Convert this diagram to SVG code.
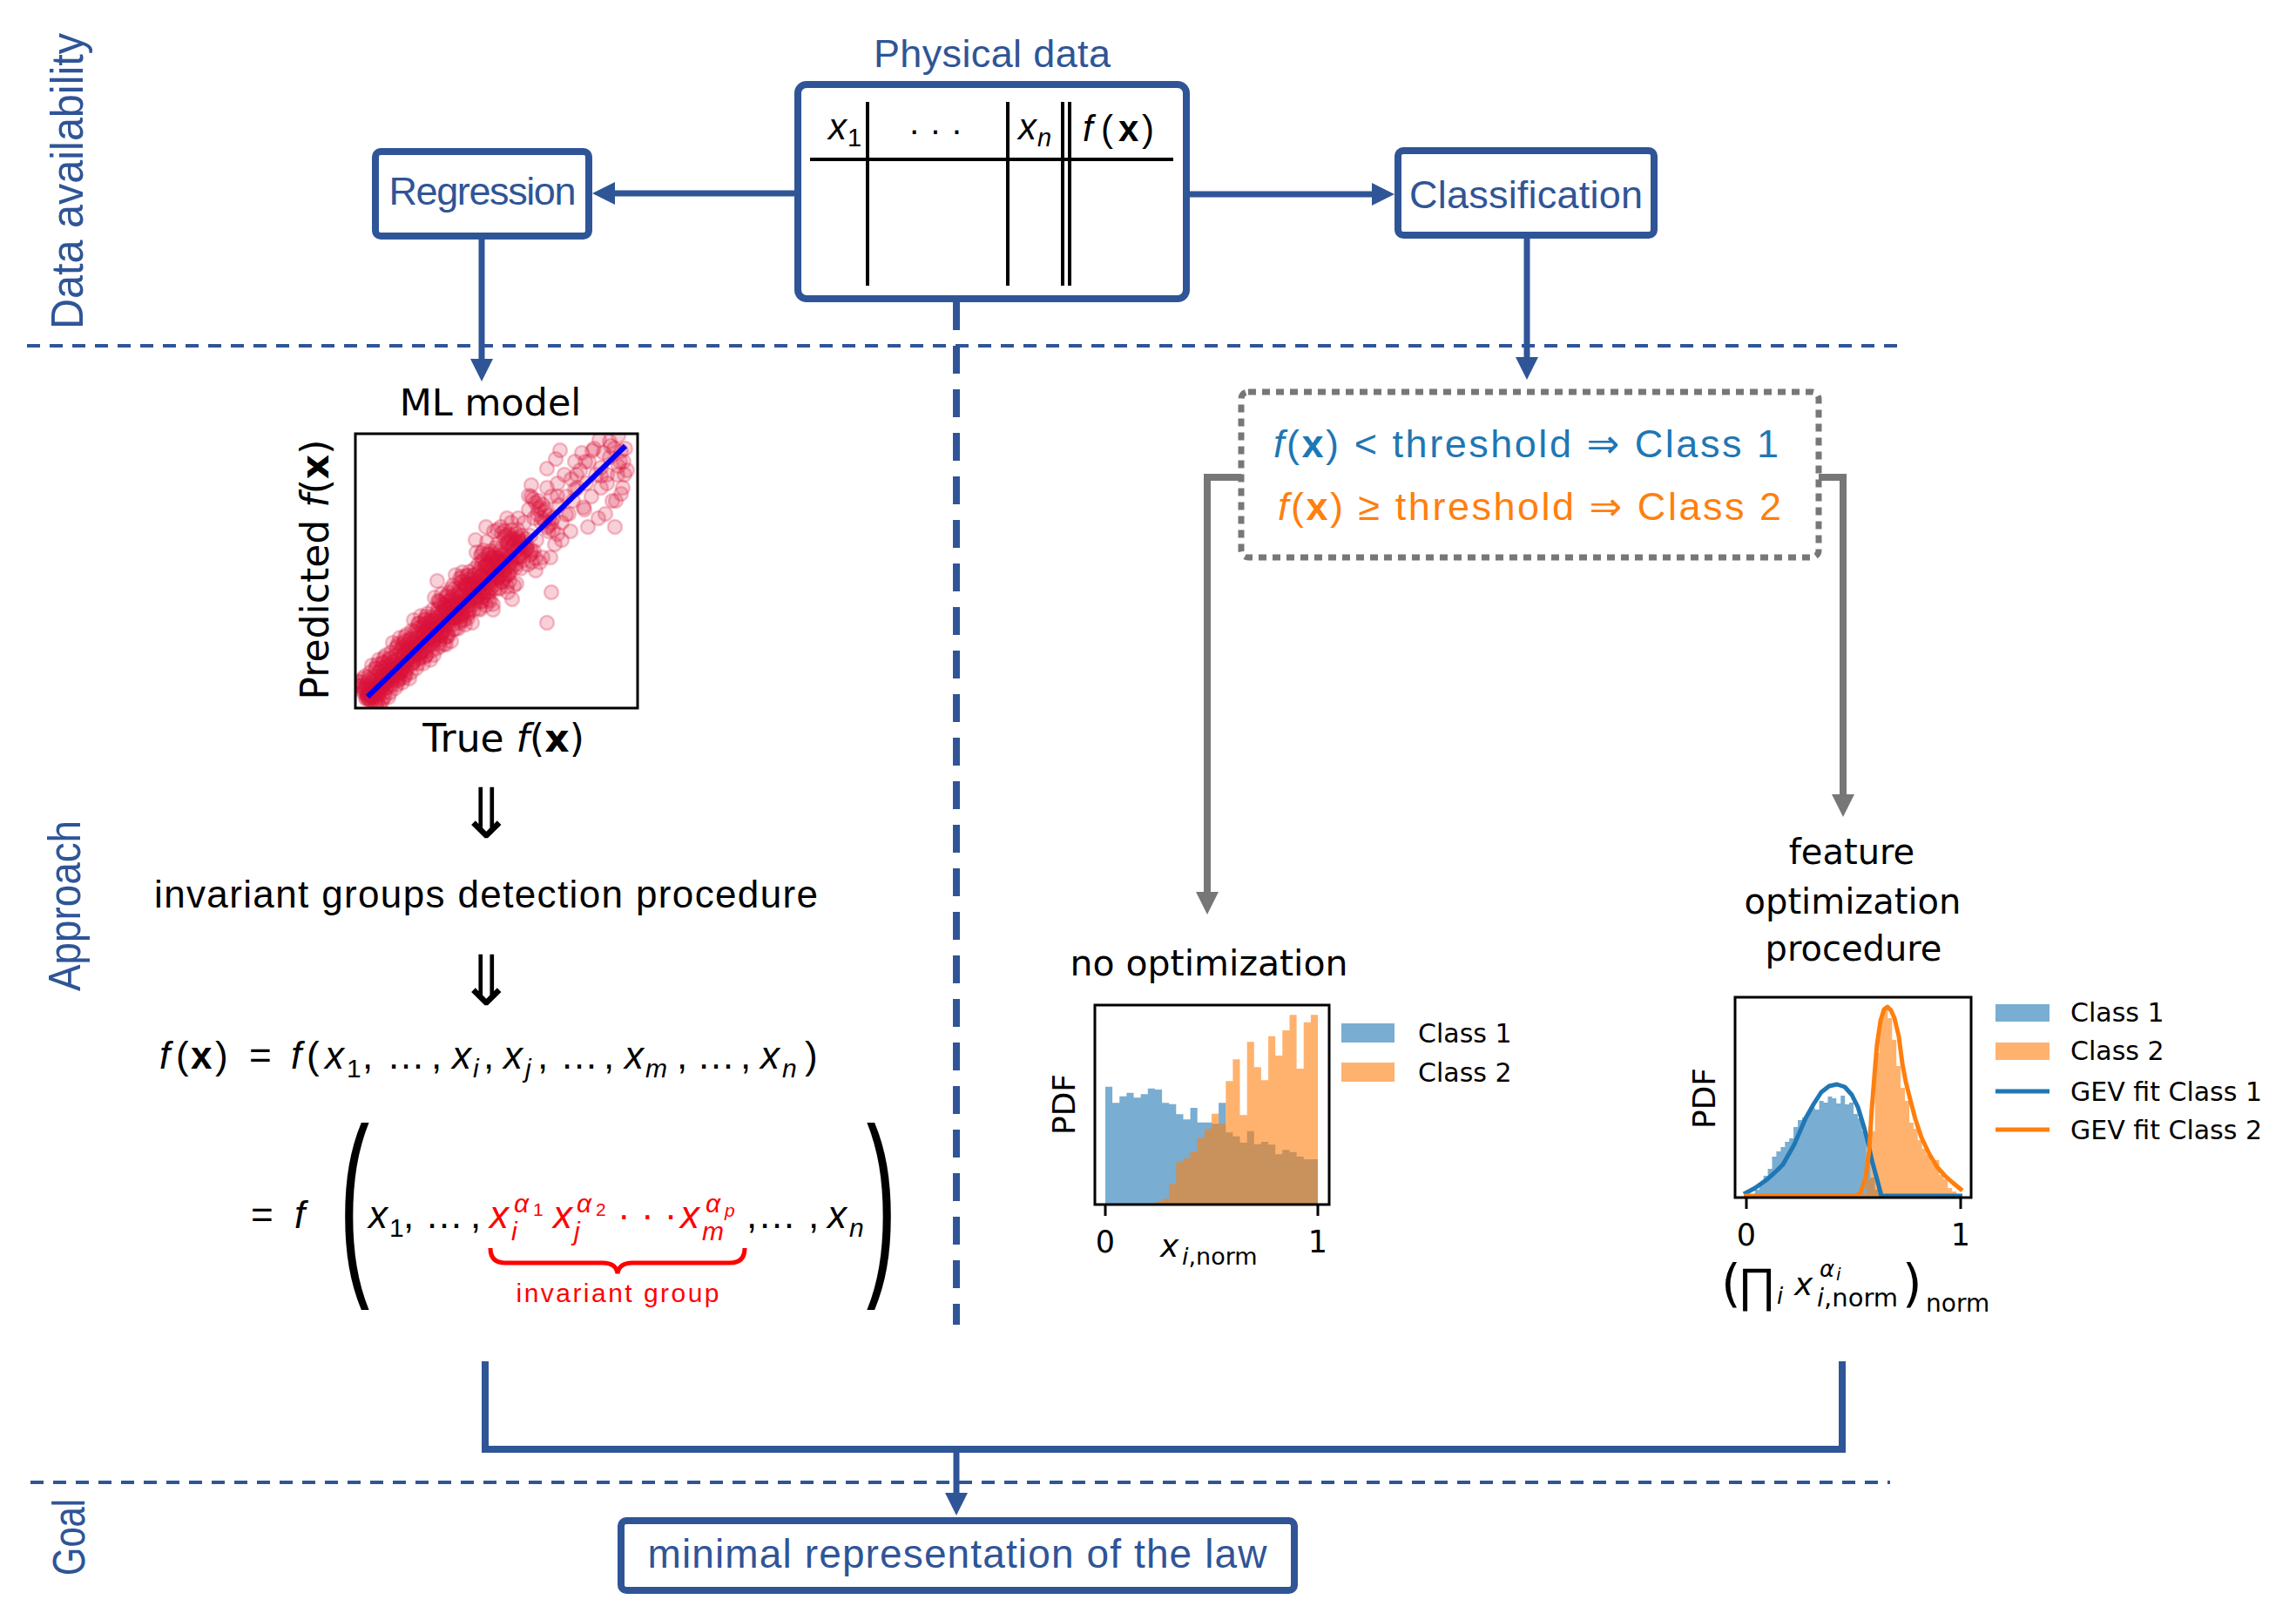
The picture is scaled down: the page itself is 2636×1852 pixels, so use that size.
<svg xmlns="http://www.w3.org/2000/svg" width="2636" height="1852" viewBox="0 0 2636 1852">
<defs>
<style>
.sans{font-family:"Liberation Sans",Arial,"DejaVu Sans",sans-serif}
.dv{font-family:"DejaVu Sans","Liberation Sans",sans-serif}
.blue{fill:#2f5597}
.box{fill:#fff;stroke:#2f5597;stroke-width:8}
.conn{fill:none;stroke:#2f5597;stroke-width:7}
.gconn{fill:none;stroke:#777;stroke-width:8}
.sep{fill:none;stroke:#2f5597;stroke-width:4;stroke-dasharray:15 11}
.tbl{stroke:#000;stroke-width:4}
.it{font-style:italic}
.bf{font-weight:bold}
.pt{fill:#dc143c;fill-opacity:.2;stroke:#dc143c;stroke-opacity:.25;stroke-width:2.5}
.frame{fill:none;stroke:#000;stroke-width:3}
.c1{fill:#1f77b4;fill-opacity:.6}
.c2{fill:#ff7f0e;fill-opacity:.6}
</style>
<marker id="ab" markerUnits="userSpaceOnUse" markerWidth="26" markerHeight="26" viewBox="0 0 26 26" refX="4" refY="13" orient="auto"><path d="M0,0L26,13L0,26z" fill="#2f5597"/></marker>
<marker id="ag" markerUnits="userSpaceOnUse" markerWidth="26" markerHeight="26" viewBox="0 0 26 26" refX="4" refY="13" orient="auto"><path d="M0,0L26,13L0,26z" fill="#777"/></marker>
<clipPath id="clipL"><rect x="1257" y="1154" width="269" height="229"/></clipPath>
<clipPath id="clipR"><rect x="1992" y="1145" width="271" height="230"/></clipPath>
<clipPath id="clipS"><rect x="408" y="498" width="324" height="315"/></clipPath>
<g id="core" class="pt">
<circle cx="424" cy="795.6" r="8"/><circle cx="428" cy="796.1" r="8"/><circle cx="432" cy="789.3" r="8"/><circle cx="436" cy="790.4" r="8"/><circle cx="440" cy="776.9" r="8"/><circle cx="444" cy="779.9" r="8"/><circle cx="448" cy="770.4" r="8"/><circle cx="452" cy="773.8" r="8"/><circle cx="456" cy="765.3" r="8"/><circle cx="460" cy="769" r="8"/><circle cx="464" cy="751" r="8"/><circle cx="468" cy="757.1" r="8"/><circle cx="472" cy="745.3" r="8"/><circle cx="476" cy="751.7" r="8"/><circle cx="480" cy="741.4" r="8"/><circle cx="484" cy="747.7" r="8"/><circle cx="488" cy="725.1" r="8"/><circle cx="492" cy="734.4" r="8"/><circle cx="496" cy="720.3" r="8"/><circle cx="500" cy="729.5" r="8"/><circle cx="504" cy="717.4" r="8"/><circle cx="508" cy="726.3" r="8"/><circle cx="512" cy="699.1" r="8"/><circle cx="516" cy="711.6" r="8"/><circle cx="520" cy="695.1" r="8"/><circle cx="524" cy="707.3" r="8"/><circle cx="528" cy="693.6" r="8"/><circle cx="532" cy="705" r="8"/><circle cx="536" cy="673.2" r="8"/><circle cx="540" cy="688.8" r="8"/><circle cx="544" cy="670.1" r="8"/><circle cx="548" cy="685" r="8"/><circle cx="552" cy="669.6" r="8"/><circle cx="556" cy="683.7" r="8"/><circle cx="560" cy="647.2" r="8"/><circle cx="564" cy="666" r="8"/><circle cx="568" cy="645" r="8"/><circle cx="572" cy="662.9" r="8"/><circle cx="576" cy="645.7" r="8"/><circle cx="580" cy="662.4" r="8"/><circle cx="584" cy="621.2" r="8"/><circle cx="588" cy="642.8" r="8"/><circle cx="592" cy="622.5" r="8"/><circle cx="596" cy="638.3" r="8"/><circle cx="600" cy="621.7" r="8"/><circle cx="610" cy="635.7" r="8"/><circle cx="620" cy="582.3" r="8"/><circle cx="630" cy="603.4" r="8"/><circle cx="422" cy="800" r="8"/><circle cx="426" cy="801" r="8"/><circle cx="430" cy="792" r="8"/><circle cx="438" cy="785" r="8"/><circle cx="446" cy="776" r="8"/><circle cx="454" cy="768" r="8"/><circle cx="462" cy="762" r="8"/><circle cx="470" cy="752" r="8"/><circle cx="478" cy="744" r="8"/><circle cx="486" cy="737" r="8"/><circle cx="494" cy="729" r="8"/><circle cx="502" cy="721" r="8"/><circle cx="510" cy="713" r="8"/><circle cx="518" cy="705" r="8"/><circle cx="526" cy="697" r="8"/><circle cx="534" cy="690" r="8"/><circle cx="542" cy="681" r="8"/><circle cx="550" cy="674" r="8"/><circle cx="558" cy="666" r="8"/><circle cx="566" cy="658" r="8"/><circle cx="574" cy="650" r="8"/><circle cx="582" cy="642" r="8"/>
</g>
</defs>
<rect x="0" y="0" width="2636" height="1852" fill="#fff"/>

<g id="section-labels" class="sans blue" font-size="52">
<text transform="translate(95,208) rotate(-90)" text-anchor="middle" textLength="340" lengthAdjust="spacingAndGlyphs">Data availability</text>
<text transform="translate(92,1040) rotate(-90)" text-anchor="middle" textLength="196" lengthAdjust="spacingAndGlyphs">Approach</text>
<text transform="translate(97,1765) rotate(-90)" text-anchor="middle" textLength="88" lengthAdjust="spacingAndGlyphs">Goal</text>
</g>

<g id="separators">
<line class="sep" x1="31" y1="397" x2="2180" y2="397"/>
<line class="sep" x1="35" y1="1702" x2="2170" y2="1702"/>
<line x1="1098" y1="347" x2="1098" y2="1521" fill="none" stroke="#2f5597" stroke-width="8" stroke-dasharray="32 18"/>
</g>

<g id="connectors">
<line class="conn" x1="912" y1="222" x2="702" y2="222" marker-end="url(#ab)"/>
<line class="conn" x1="1366" y1="223" x2="1579" y2="223" marker-end="url(#ab)"/>
<line class="conn" x1="553" y1="275" x2="553" y2="416" marker-end="url(#ab)"/>
<line class="conn" x1="1753" y1="274" x2="1753" y2="414" marker-end="url(#ab)"/>
<path class="gconn" d="M1425,548H1386V1028" marker-end="url(#ag)"/>
<path class="gconn" d="M2088,548H2116V916" marker-end="url(#ag)"/>
<path d="M557,1563V1664H2115V1563" fill="none" stroke="#2f5597" stroke-width="8"/>
<line class="conn" x1="1098" y1="1664" x2="1098" y2="1718" marker-end="url(#ab)"/>
</g>

<g id="node-physical-data">
<text class="sans blue" x="1139" y="77" font-size="45" text-anchor="middle" textLength="272">Physical data</text>
<rect class="box" x="916" y="97" width="446" height="246" rx="10"/>
<line class="tbl" x1="930" y1="183" x2="1347" y2="183"/>
<line class="tbl" x1="996" y1="117" x2="996" y2="328"/>
<line class="tbl" x1="1157" y1="117" x2="1157" y2="328"/>
<line class="tbl" x1="1220" y1="117" x2="1220" y2="328"/>
<line class="tbl" x1="1228" y1="117" x2="1228" y2="328"/>
<text class="sans" font-size="42" y="160"><tspan x="951" class="it">x</tspan><tspan x="973" y="168" font-size="29">1</tspan></text>
<text class="sans" font-size="40" x="1074" y="163" text-anchor="middle">· · ·</text>
<text class="sans" font-size="42" y="160"><tspan x="1169" class="it">x</tspan><tspan x="1191" y="168" font-size="29" class="it">n</tspan></text>
<text class="sans" font-size="42" y="162"><tspan x="1243" class="it">f</tspan><tspan x="1264">(</tspan><tspan x="1284" class="bf">x</tspan><tspan x="1311">)</tspan></text>
</g>

<g id="node-regression">
<rect class="box" x="431" y="174" width="245" height="97" rx="6"/>
<text class="sans blue" x="554" y="235" font-size="45" text-anchor="middle" textLength="215">Regression</text>
</g>

<g id="node-classification">
<rect class="box" x="1605" y="173" width="294" height="97" rx="6"/>
<text class="sans blue" x="1752" y="239" font-size="45" text-anchor="middle" textLength="268">Classification</text>
</g>

<g id="node-ml-model">
<text class="dv" x="563" y="477" font-size="43" text-anchor="middle">ML model</text>
<g clip-path="url(#clipS)">
<use href="#core"/>
<use href="#core" transform="translate(5,5)"/>
<use href="#core" transform="translate(-5,-5)"/>
<use href="#core" transform="translate(3,-3)"/>
<use href="#core" transform="translate(-8,-9)"/>
<use href="#core" transform="translate(10,10)"/>
<use href="#core" transform="translate(-13,-13)"/>
<use href="#core" transform="translate(-2,2)"/>
<g class="pt">
<circle cx="422" cy="800" r="8"/><circle cx="423" cy="798" r="8"/><circle cx="425" cy="797" r="8"/><circle cx="421" cy="802" r="8"/><circle cx="427" cy="795" r="8"/><circle cx="424" cy="803" r="8"/><circle cx="429" cy="793" r="8"/><circle cx="426" cy="799" r="8"/><circle cx="430" cy="796" r="8"/><circle cx="432" cy="789" r="8"/><circle cx="434" cy="793" r="8"/><circle cx="436" cy="787" r="8"/><circle cx="438" cy="791" r="8"/><circle cx="439" cy="782" r="8"/><circle cx="441" cy="786" r="8"/><circle cx="443" cy="783" r="8"/><circle cx="445" cy="776" r="8"/><circle cx="446" cy="782" r="8"/><circle cx="448" cy="777" r="8"/><circle cx="451" cy="777" r="8"/><circle cx="453" cy="768" r="8"/><circle cx="454" cy="774" r="8"/><circle cx="456" cy="776" r="8"/><circle cx="459" cy="764" r="8"/><circle cx="461" cy="771" r="8"/><circle cx="464" cy="765" r="8"/><circle cx="467" cy="760" r="8"/><circle cx="469" cy="752" r="8"/><circle cx="428" cy="791" r="8"/><circle cx="433" cy="797" r="8"/><circle cx="437" cy="781" r="8"/><circle cx="444" cy="789" r="8"/><circle cx="450" cy="769" r="8"/><circle cx="457" cy="781" r="8"/><circle cx="462" cy="758" r="8"/><circle cx="466" cy="770" r="8"/>
<circle cx="472" cy="745" r="8"/><circle cx="475" cy="760" r="8"/><circle cx="478" cy="733" r="8"/><circle cx="481" cy="752" r="8"/><circle cx="484" cy="738" r="8"/><circle cx="486" cy="729" r="8"/><circle cx="489" cy="747" r="8"/><circle cx="491" cy="722" r="8"/><circle cx="494" cy="740" r="8"/><circle cx="496" cy="715" r="8"/><circle cx="498" cy="735" r="8"/><circle cx="500" cy="710" r="8"/><circle cx="502" cy="728" r="8"/><circle cx="505" cy="742" r="8"/><circle cx="507" cy="703" r="8"/><circle cx="509" cy="720" r="8"/><circle cx="511" cy="698" r="8"/><circle cx="513" cy="716" r="8"/><circle cx="515" cy="730" r="8"/><circle cx="517" cy="690" r="8"/><circle cx="519" cy="708" r="8"/><circle cx="521" cy="695" r="8"/><circle cx="523" cy="722" r="8"/><circle cx="525" cy="684" r="8"/><circle cx="527" cy="705" r="8"/><circle cx="529" cy="678" r="8"/><circle cx="531" cy="697" r="8"/><circle cx="533" cy="712" r="8"/><circle cx="535" cy="672" r="8"/><circle cx="537" cy="690" r="8"/><circle cx="539" cy="700" r="8"/><circle cx="503" cy="690" r="8"/><circle cx="488" cy="712" r="8"/><circle cx="476" cy="725" r="8"/><circle cx="512" cy="740" r="8"/><circle cx="530" cy="662" r="8"/><circle cx="498" cy="752" r="8"/><circle cx="518" cy="676" r="8"/><circle cx="502" cy="667" r="8"/><circle cx="520" cy="672" r="8"/><circle cx="480" cy="742" r="8"/><circle cx="492" cy="731" r="8"/><circle cx="508" cy="711" r="8"/><circle cx="526" cy="693" r="8"/>
<circle cx="542" cy="675" r="8"/><circle cx="545" cy="660" r="8"/><circle cx="547" cy="690" r="8"/><circle cx="549" cy="648" r="8"/><circle cx="551" cy="700" r="8"/><circle cx="553" cy="635" r="8"/><circle cx="555" cy="665" r="8"/><circle cx="557" cy="680" r="8"/><circle cx="559" cy="622" r="8"/><circle cx="561" cy="650" r="8"/><circle cx="563" cy="690" r="8"/><circle cx="565" cy="640" r="8"/><circle cx="567" cy="610" r="8"/><circle cx="569" cy="660" r="8"/><circle cx="571" cy="625" r="8"/><circle cx="573" cy="675" r="8"/><circle cx="575" cy="605" r="8"/><circle cx="577" cy="645" r="8"/><circle cx="579" cy="660" r="8"/><circle cx="581" cy="615" r="8"/><circle cx="583" cy="680" r="8"/><circle cx="585" cy="632" r="8"/><circle cx="587" cy="600" r="8"/><circle cx="589" cy="650" r="8"/><circle cx="591" cy="620" r="8"/><circle cx="593" cy="670" r="8"/><circle cx="595" cy="595" r="8"/><circle cx="597" cy="640" r="8"/><circle cx="599" cy="615" r="8"/><circle cx="546" cy="620" r="8"/><circle cx="558" cy="605" r="8"/><circle cx="552" cy="662" r="8"/><circle cx="566" cy="700" r="8"/><circle cx="588" cy="688" r="8"/><circle cx="594" cy="608" r="8"/><circle cx="582" cy="595" r="8"/><circle cx="572" cy="645" r="8"/><circle cx="564" cy="675" r="8"/><circle cx="548" cy="672" r="8"/><circle cx="556" cy="650" r="8"/><circle cx="570" cy="640" r="8"/><circle cx="584" cy="650" r="8"/>
<circle cx="602" cy="600" r="8"/><circle cx="604" cy="630" r="8"/><circle cx="607" cy="585" r="8"/><circle cx="609" cy="615" r="8"/><circle cx="611" cy="645" r="8"/><circle cx="613" cy="595" r="8"/><circle cx="616" cy="620" r="8"/><circle cx="618" cy="575" r="8"/><circle cx="621" cy="600" r="8"/><circle cx="623" cy="640" r="8"/><circle cx="626" cy="585" r="8"/><circle cx="628" cy="560" r="8"/><circle cx="630" cy="610" r="8"/><circle cx="633" cy="570" r="8"/><circle cx="635" cy="595" r="8"/><circle cx="637" cy="625" r="8"/><circle cx="640" cy="555" r="8"/><circle cx="642" cy="580" r="8"/><circle cx="645" cy="600" r="8"/><circle cx="648" cy="545" r="8"/><circle cx="650" cy="570" r="8"/><circle cx="653" cy="590" r="8"/><circle cx="656" cy="550" r="8"/><circle cx="658" cy="575" r="8"/><circle cx="660" cy="530" r="8"/><circle cx="615" cy="655" r="8"/><circle cx="632" cy="640" r="8"/><circle cx="645" cy="620" r="8"/><circle cx="655" cy="610" r="8"/><circle cx="610" cy="570" r="8"/><circle cx="633" cy="680" r="8"/><circle cx="628" cy="715" r="8"/><circle cx="643" cy="517" r="8"/><circle cx="638" cy="527" r="8"/><circle cx="628" cy="538" r="8"/><circle cx="610" cy="557" r="8"/><circle cx="640" cy="569.8" r="8"/><circle cx="650" cy="590.7" r="8"/><circle cx="660" cy="561.9" r="8"/><circle cx="670" cy="582.4" r="8"/><circle cx="680" cy="517.5" r="8"/><circle cx="690" cy="546.5" r="8"/><circle cx="700" cy="507" r="8"/><circle cx="710" cy="535.2" r="8"/>
<circle cx="663" cy="560" r="8"/><circle cx="666" cy="540" r="8"/><circle cx="668" cy="520" r="8"/><circle cx="671" cy="585" r="8"/><circle cx="673" cy="555" r="8"/><circle cx="676" cy="530" r="8"/><circle cx="679" cy="570" r="8"/><circle cx="682" cy="515" r="8"/><circle cx="684" cy="545" r="8"/><circle cx="687" cy="595" r="8"/><circle cx="690" cy="560" r="8"/><circle cx="693" cy="520" r="8"/><circle cx="695" cy="590" r="8"/><circle cx="697" cy="545" r="8"/><circle cx="700" cy="525" r="8"/><circle cx="703" cy="575" r="8"/><circle cx="706" cy="605" r="8"/><circle cx="709" cy="545" r="8"/><circle cx="712" cy="530" r="8"/><circle cx="715" cy="560" r="8"/><circle cx="718" cy="515" r="8"/><circle cx="720" cy="540" r="8"/><circle cx="710" cy="500" r="8"/><circle cx="688" cy="505" r="8"/><circle cx="675" cy="605" r="8"/><circle cx="662" cy="545" r="8"/><circle cx="672" cy="530" r="8"/><circle cx="690" cy="537" r="8"/><circle cx="705" cy="515" r="8"/><circle cx="713" cy="518" r="8"/><circle cx="697" cy="555" r="8"/><circle cx="713" cy="567" r="8"/><circle cx="707" cy="575" r="8"/><circle cx="717" cy="545" r="8"/><circle cx="701" cy="512" r="8"/><circle cx="716" cy="530" r="8"/>
</g>
</g>
<line x1="422" y1="800" x2="718" y2="512" stroke="#0000ff" stroke-width="6"/>
<rect class="frame" x="408" y="498" width="324" height="315"/>
<text class="dv" font-size="44" transform="translate(377,654) rotate(-90)" text-anchor="middle">Predicted <tspan class="it">f</tspan>(<tspan class="bf">x</tspan>)</text>
<text class="dv" x="578" y="863" font-size="44" text-anchor="middle">True <tspan class="it">f</tspan>(<tspan class="bf">x</tspan>)</text>
</g>

<g id="node-invariant-procedure">
<text class="dv" x="558" y="962" font-size="80" text-anchor="middle">⇓</text>
<text class="sans" x="558" y="1042" font-size="44" text-anchor="middle" textLength="762">invariant groups detection procedure</text>
<text class="dv" x="558" y="1154" font-size="80" text-anchor="middle">⇓</text>
</g>

<g id="node-formula">
<text class="sans" font-size="44" y="1227"><tspan x="183" class="it">f</tspan><tspan x="202">(</tspan><tspan x="219" class="bf">x</tspan><tspan x="247">)</tspan><tspan x="286">=</tspan><tspan x="334" class="it">f</tspan><tspan x="352">(</tspan><tspan x="373" class="it">x</tspan><tspan x="398" y="1237" font-size="30">1</tspan><tspan x="416" y="1227">,</tspan><tspan x="444">…</tspan><tspan x="495">,</tspan><tspan x="519" class="it">x</tspan><tspan x="543" y="1237" font-size="30" class="it">i</tspan><tspan x="555" y="1227">,</tspan><tspan x="578" class="it">x</tspan><tspan x="603" y="1237" font-size="30" class="it">j</tspan><tspan x="617" y="1227">,</tspan><tspan x="643">…</tspan><tspan x="693">,</tspan><tspan x="717" class="it">x</tspan><tspan x="741" y="1237" font-size="30" class="it">m</tspan><tspan x="777" y="1227">,</tspan><tspan x="800">…</tspan><tspan x="850">,</tspan><tspan x="873" class="it">x</tspan><tspan x="898" y="1237" font-size="30" class="it">n</tspan><tspan x="924" y="1227">)</tspan></text>
<text class="sans" font-size="44" y="1410"><tspan x="288">=</tspan><tspan x="338" class="it">f</tspan></text>
<text class="sans" font-size="230" text-anchor="middle" transform="translate(407,1456) scale(0.45,1)" x="0" y="0">(</text>
<text class="sans" font-size="230" text-anchor="middle" transform="translate(1012,1456) scale(0.45,1)" x="0" y="0">)</text>
<text class="sans" font-size="44" y="1410"><tspan x="423" class="it">x</tspan><tspan x="447" y="1420" font-size="30">1</tspan><tspan x="463" y="1410">,</tspan><tspan x="488">…</tspan><tspan x="540">,</tspan></text>
<text class="sans" font-size="44" y="1410" fill="#ff0000"><tspan x="562" class="it">x</tspan><tspan x="587" y="1424" font-size="30" class="it">i</tspan><tspan x="590" y="1392" font-size="30" class="it">α</tspan><tspan x="612" y="1396" font-size="21">1</tspan><tspan x="635" y="1410" class="it">x</tspan><tspan x="659" y="1424" font-size="30" class="it">j</tspan><tspan x="662" y="1392" font-size="30" class="it">α</tspan><tspan x="684" y="1396" font-size="21">2</tspan><tspan x="709" y="1410">· · ·</tspan><tspan x="781" class="it">x</tspan><tspan x="806" y="1424" font-size="30" class="it">m</tspan><tspan x="810" y="1392" font-size="30" class="it">α</tspan><tspan x="832" y="1397" font-size="21" class="it">p</tspan></text>
<text class="sans" font-size="44" y="1410"><tspan x="857">,</tspan><tspan x="870">…</tspan><tspan x="928">,</tspan><tspan x="950" class="it">x</tspan><tspan x="975" y="1420" font-size="30" class="it">n</tspan></text>
<path d="M563,1433Q563,1450 580,1450L692,1450Q707,1450 709,1462Q711,1450 726,1450L838,1450Q855,1450 855,1433" fill="none" stroke="#ff0000" stroke-width="5"/>
<text class="sans" x="709" y="1495" font-size="30" fill="#ff0000" text-anchor="middle" textLength="233">invariant group</text>
</g>

<g id="node-threshold">
<rect x="1425" y="450" width="663" height="190" rx="8" fill="none" stroke="#777" stroke-width="7" stroke-dasharray="9 7"/>
<text class="sans" font-size="45" x="1462" y="525" fill="#1f77b4" textLength="580"><tspan class="it">f</tspan>(<tspan class="bf">x</tspan>) &lt; threshold <tspan class="dv">⇒</tspan> Class 1</text>
<text class="sans" font-size="45" x="1467" y="597" fill="#ff7f0e" textLength="578"><tspan class="it">f</tspan>(<tspan class="bf">x</tspan>) ≥ threshold <tspan class="dv">⇒</tspan> Class 2</text>
</g>

<g id="node-no-optimization">
<text class="dv" x="1388" y="1120" font-size="41" text-anchor="middle">no optimization</text>
<g clip-path="url(#clipL)">
<path class="c1" d="M1269,1382V1247.7H1277.1V1266.3H1285.3V1258.7H1293.4V1254.7H1301.5V1260.3H1309.7V1256.3H1317.8V1249.7H1325.9V1251H1334.1V1266.3H1342.2V1267.7H1350.3V1279.3H1358.5V1285.3H1366.6V1272H1374.7V1288.7H1382.9V1288.7H1391V1290.3H1399.1V1266.3H1407.3V1300.3H1415.4V1304.7H1423.5V1312H1431.7V1298.7H1439.8V1313.7H1447.9V1311H1456.1V1314.3H1464.2V1325.3H1472.3V1320.3H1480.5V1322.7H1488.6V1328H1496.7V1331H1513V1382Z"/>
<path class="c2" d="M1325.9,1382V1379.7H1334.1V1376.3H1342.2V1359.3H1350.3V1334.3H1358.5V1329.7H1366.6V1322H1374.7V1306.3H1382.9V1296.3H1391V1278.7H1399.1V1290.3H1407.3V1241.3H1415.4V1216.3H1423.5V1280.3H1431.7V1196.3H1439.8V1225.3H1447.9V1240.3H1456.1V1189.7H1464.2V1212H1472.3V1183H1480.5V1165.3H1488.6V1227H1496.7V1173.7H1504.9V1165.3H1513V1382Z"/>
</g>
<rect class="frame" x="1257" y="1154" width="269" height="229"/>
<line x1="1269" y1="1383" x2="1269" y2="1396" stroke="#000" stroke-width="3"/>
<line x1="1513" y1="1383" x2="1513" y2="1396" stroke="#000" stroke-width="3"/>
<text class="dv" font-size="35" y="1438" text-anchor="middle"><tspan x="1269">0</tspan><tspan x="1513">1</tspan></text>
<text class="dv" font-size="36" y="1443"><tspan x="1332" class="it">x</tspan><tspan x="1357" y="1452" font-size="27"><tspan class="it">i</tspan>,norm</tspan></text>
<text class="dv" font-size="36" transform="translate(1234,1268) rotate(-90)" text-anchor="middle">PDF</text>
<rect class="c1" x="1540" y="1175" width="61" height="22"/>
<rect class="c2" x="1540" y="1220" width="61" height="22"/>
<text class="dv" font-size="30" x="1628" y="1197">Class 1</text>
<text class="dv" font-size="30" x="1628" y="1242">Class 2</text>
</g>

<g id="node-feature-optimization">
<text class="dv" font-size="40" text-anchor="middle"><tspan x="2126" y="992">feature</tspan><tspan x="2127" y="1049">optimization</tspan><tspan x="2128" y="1103">procedure</tspan></text>
<g clip-path="url(#clipR)">
<path class="c1" d="M2014.8,1374V1366H2019.8V1359H2024.7V1350H2029.6V1342H2034.5V1328H2039.4V1322H2044.4V1317H2049.3V1311H2054.2V1307H2059.1V1294H2064V1286H2069V1283H2073.9V1277H2078.8V1272H2083.7V1274H2088.6V1264H2093.6V1266H2098.5V1259H2103.4V1261H2108.3V1267H2113.2V1258H2118.2V1268H2123.1V1266H2128V1279H2132.9V1284H2137.8V1299H2142.8V1329H2147.7V1352H2152.6V1366H2157.5V1372H2162.4V1374Z"/>
<path class="c2" d="M2137.8,1374V1371H2142.8V1354H2147.7V1299H2152.6V1209H2157.5V1169H2162.4V1159H2167.4V1169H2172.3V1194H2177.2V1224H2182.1V1249H2187V1264H2192V1289H2196.9V1296H2201.8V1309H2206.7V1319H2211.6V1326H2216.6V1334H2221.5V1332H2226.4V1349H2231.3V1354H2236.2V1364H2241.2V1368H2246.1V1371H2251V1374Z"/>
<polyline fill="none" stroke="#1f77b4" stroke-width="5" stroke-linejoin="round" points="2002,1371 2015,1364 2029,1354 2040,1344 2047,1337 2060,1314 2073,1284 2082,1268 2091,1254 2100,1247 2109,1245 2118,1248 2126,1257 2133,1271 2140,1294 2145,1313 2149,1332 2155,1354 2160,1373 2253,1373"/>
<polyline fill="none" stroke="#ff7f0e" stroke-width="5" stroke-linejoin="round" points="2002,1373 2130,1373 2136,1370 2142,1352 2146,1320 2149,1273 2152,1235 2155,1199 2159,1172 2163,1159 2167,1156 2171,1160 2175,1169 2180,1190 2184,1221 2188,1242 2193,1262 2199,1285 2206,1306 2215,1325 2224,1340 2233,1350 2242,1358 2253,1367"/>
</g>
<rect class="frame" x="1992" y="1145" width="271" height="230"/>
<line x1="2005" y1="1375" x2="2005" y2="1388" stroke="#000" stroke-width="3"/>
<line x1="2251" y1="1375" x2="2251" y2="1388" stroke="#000" stroke-width="3"/>
<text class="dv" font-size="35" y="1430" text-anchor="middle"><tspan x="2005">0</tspan><tspan x="2251">1</tspan></text>
<text class="dv" font-size="36" transform="translate(1969,1261) rotate(-90)" text-anchor="middle">PDF</text>
<text class="dv" font-size="58" x="1976" y="1494">(</text>
<text class="sans" font-size="54" x="1995" y="1494">∏</text>
<text class="dv it" font-size="26" x="2040" y="1497">i</text>
<text class="dv it" font-size="36" x="2060" y="1487">x</text>
<text class="dv" font-size="26" y="1466"><tspan x="2089" class="it">α</tspan><tspan x="2108" y="1470" font-size="20" class="it">i</tspan></text>
<text class="dv" font-size="29" x="2086" y="1500"><tspan class="it">i</tspan>,norm</text>
<text class="dv" font-size="58" x="2184" y="1494">)</text>
<text class="dv" font-size="28" x="2211" y="1506">norm</text>
<rect class="c1" x="2291" y="1153" width="62" height="20"/>
<rect class="c2" x="2291" y="1197" width="62" height="20"/>
<line x1="2291" y1="1253" x2="2353" y2="1253" stroke="#1f77b4" stroke-width="5"/>
<line x1="2291" y1="1297" x2="2353" y2="1297" stroke="#ff7f0e" stroke-width="5"/>
<text class="dv" font-size="30" x="2377" y="1173">Class 1</text>
<text class="dv" font-size="30" x="2377" y="1217">Class 2</text>
<text class="dv" font-size="30" x="2377" y="1264">GEV fit Class 1</text>
<text class="dv" font-size="30" x="2377" y="1308">GEV fit Class 2</text>
</g>

<g id="node-goal">
<rect class="box" x="713" y="1746" width="773" height="80" rx="6"/>
<text class="sans blue" x="1099" y="1800" font-size="46" text-anchor="middle" textLength="711">minimal representation of the law</text>
</g>
</svg>
